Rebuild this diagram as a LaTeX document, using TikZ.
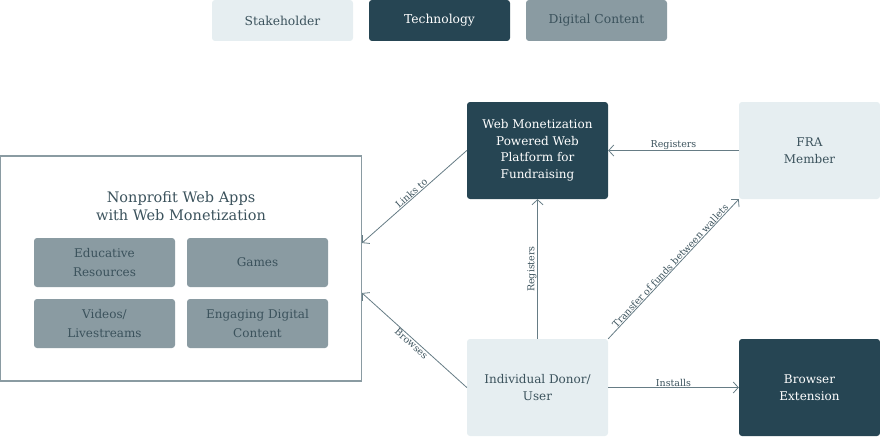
\documentclass[tikz,border=0pt]{standalone}
\usepackage{fontspec}
\setmainfont{DejaVu Serif}
\usetikzlibrary{arrows.meta}
\definecolor{paleblue}{HTML}{E6EEF1}
\definecolor{deepteal}{HTML}{264553}
\definecolor{slategray}{HTML}{8A9BA2}
\definecolor{inkgray}{HTML}{3B525C}
\definecolor{linegray}{HTML}{667C85}

\begin{document}
\begin{tikzpicture}[x=1pt,y=-1pt,
  box/.style={rounded corners=3pt,minimum width=141pt,minimum height=97pt,align=center,
    font=\fontsize{12}{16.5}\selectfont,inner sep=0pt},
  stake/.style={box,fill=paleblue,text=inkgray},
  tech/.style={box,fill=deepteal,text=white},
  content/.style={box,fill=slategray,text=inkgray,minimum height=49pt,font=\fontsize{12}{19}\selectfont},
  key/.style={minimum height=41pt,font=\fontsize{12.3}{15}\selectfont},
  link/.style={draw=linegray,line width=0.8pt,-{Straight Barb[length=5pt,width=11pt]}},
  tag/.style={font=\fontsize{9.5}{10}\selectfont,text=inkgray,inner sep=0.5pt,sloped}]
  \useasboundingbox (0,0) rectangle (880,436);
  % legend
  \node[stake,key] (stakeholder) at (282.5,20.5) {Stakeholder};
  \node[tech,key] (technology) at (439.5,20.5) {Technology};
  \node[content,key] (digital) at (596.5,20.5) {Digital Content};
  % nonprofit apps
  \node[draw=slategray,line width=1.2pt,minimum width=361pt,minimum height=225pt] (apps) at (181,268.5) {};
  \node[align=center,text=inkgray,font=\fontsize{14.5}{18}\selectfont] (appstitle) at (181,206) {Nonprofit Web Apps\\with Web Monetization};
  \node[content] (educative) at (104.5,262.5) {Educative\\Resources};
  \node[content] (games) at (257.5,262.5) {Games};
  \node[content] (videos) at (104.5,323.5) {Videos/\\Livestreams};
  \node[content] (engaging) at (257.5,323.5) {Engaging Digital\\Content};
  \coordinate (linksend) at (362,243);
  \coordinate (browsesend) at (362,293);
  % stakeholders and technology
  \node[tech] (platform) at (537.5,150.5) {Web Monetization\\Powered Web\\Platform for\\Fundraising};
  \node[stake,font=\fontsize{12}{17}\selectfont] (fra) at (809.5,150.5) {FRA\\Member};
  \node[stake,font=\fontsize{12}{17}\selectfont] (donor) at (537.5,387.5) {Individual Donor/\\User};
  \node[tech,font=\fontsize{12}{17}\selectfont] (browser) at (809.5,387.5) {Browser\\Extension};
  % connectors
  \draw[link] (platform.west) -- (linksend) node[midway,above,tag] {Links to};
  \draw[link] (donor.west) -- (browsesend) node[midway,below,tag] {Browses};
  \draw[link] (fra.west) -- (platform.east) node[midway,above,tag] {Registers};
  \draw[link] (donor.north) -- (platform.south) node[midway,above,tag] {Registers};
  \draw[link] (donor.north east) -- (fra.south west) node[midway,above,tag] {Transfer of funds between wallets};
  \draw[link] (donor.east) -- (browser.west) node[midway,above,tag] {Installs};
\end{tikzpicture}
\end{document}
